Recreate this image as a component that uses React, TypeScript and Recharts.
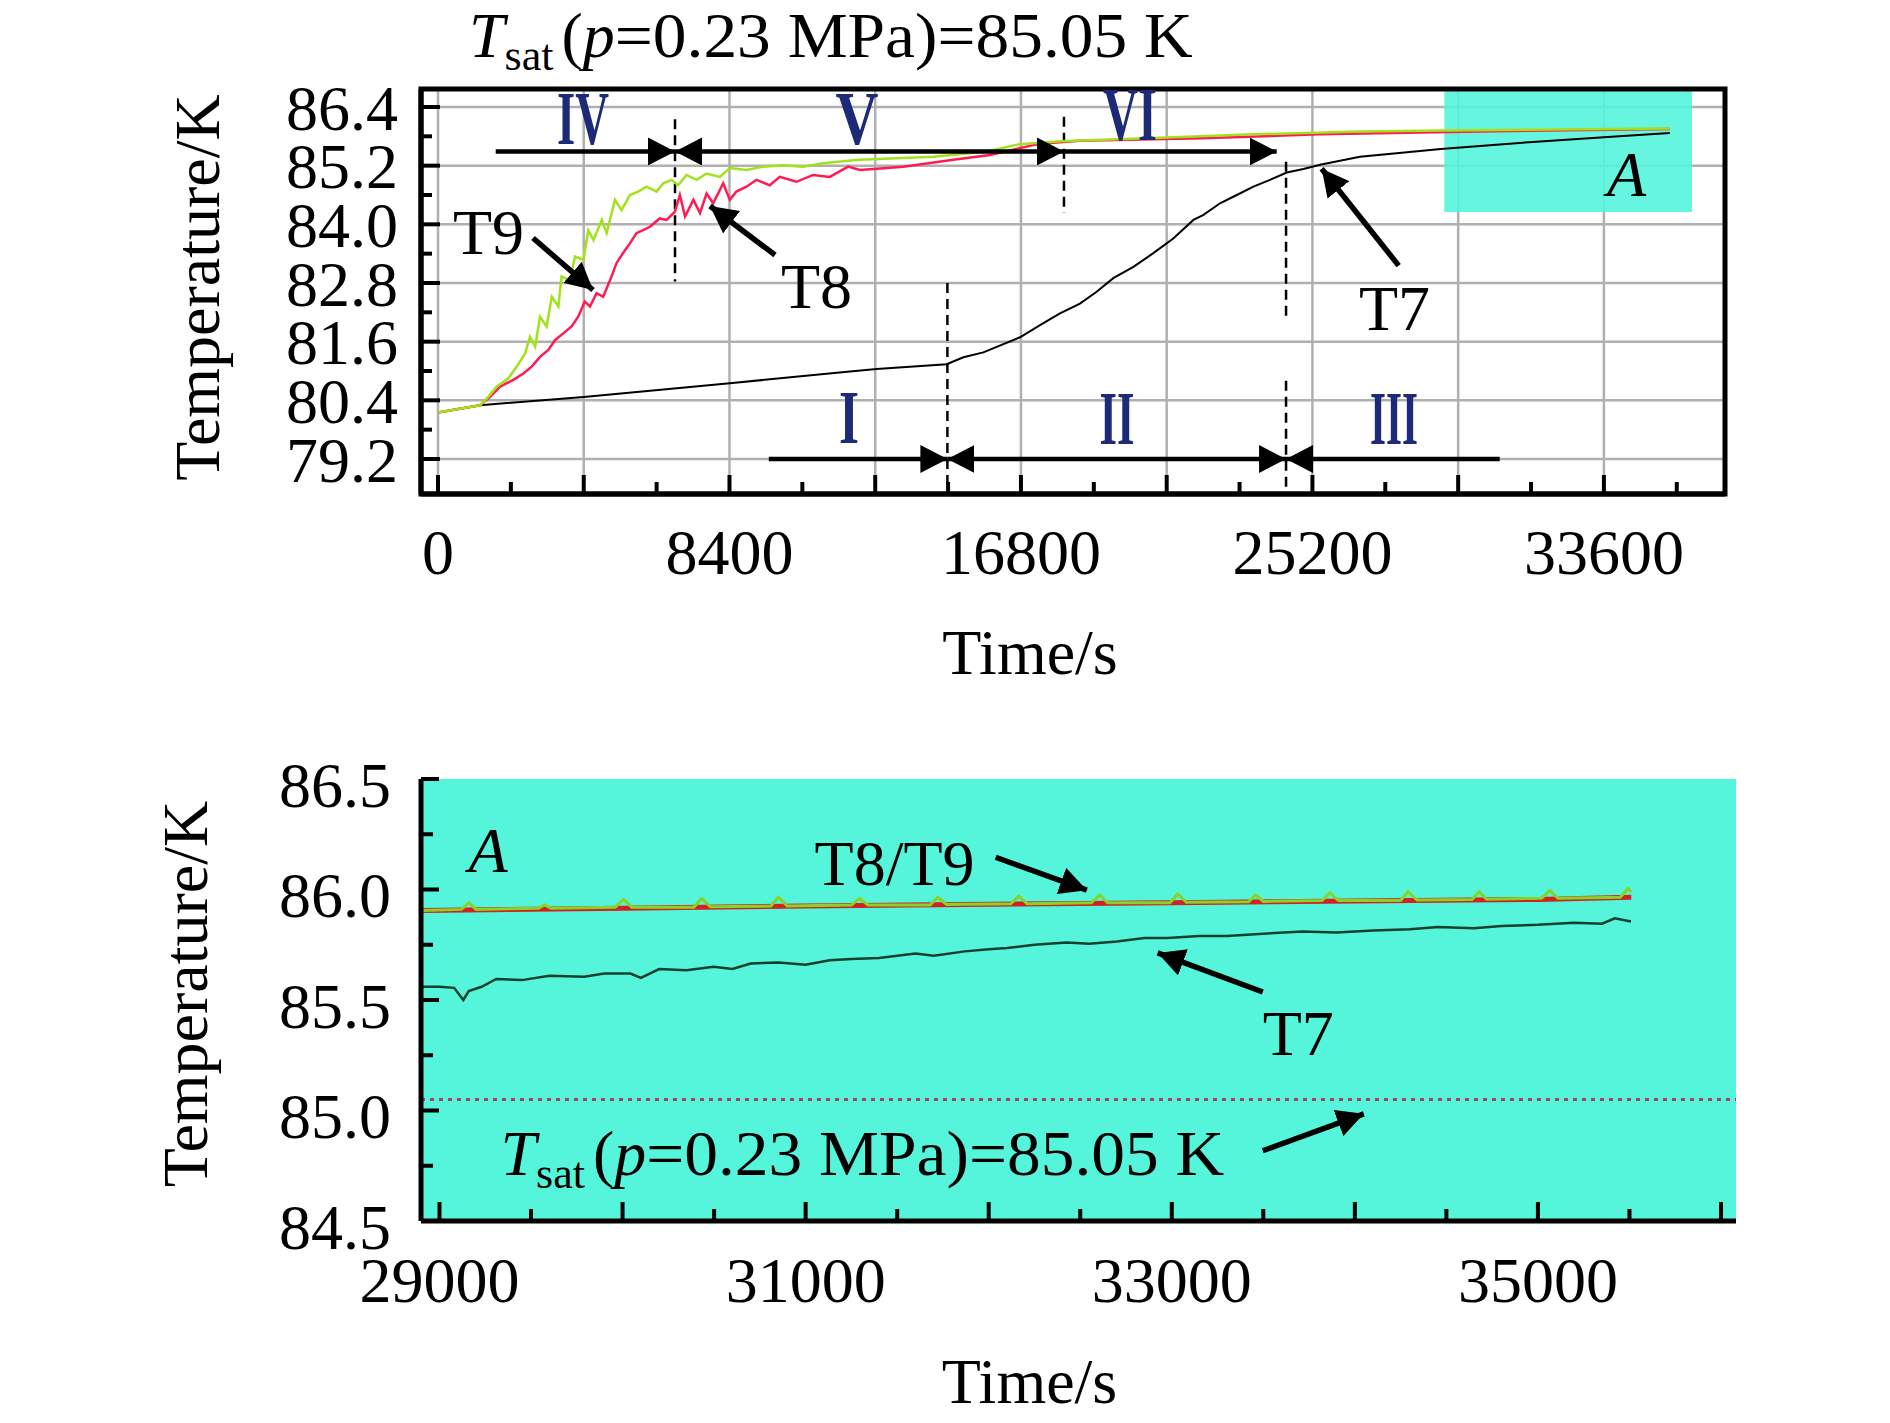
import React from 'react';
import {
  LineChart,
  Line,
  XAxis,
  YAxis,
  CartesianGrid,
  ReferenceLine,
  ReferenceArea,
  ReferenceDot,
} from 'recharts';

const FONT = '"Liberation Serif", "Times New Roman", Times, serif';
const NAVY = '#1c2a78';
const CYAN = '#55F5DC';

// ---------- upper panel: whole run (time in s, temperature in K) ----------
const T7_TIME = [0, 1210, 4200, 8410, 11870, 12640, 14660, 15140, 15716, 16773, 17350, 17925, 18500, 18982, 19460, 20040, 20615, 21190, 21770, 22050, 22537, 23020, 23500, 23977, 24460, 24940, 25418, 26570, 28900, 31440, 33600, 35500];
const T7_TEMP = [80.15, 80.3, 80.47, 80.75, 80.99, 81.04, 81.14, 81.28, 81.38, 81.69, 81.94, 82.18, 82.38, 82.62, 82.9, 83.13, 83.41, 83.71, 84.09, 84.19, 84.43, 84.6, 84.77, 84.91, 85.06, 85.13, 85.22, 85.38, 85.54, 85.68, 85.78, 85.87];

const T8_TIME = [0, 1210, 1500, 1790, 2170, 2460, 2700, 2940, 3180, 3370, 3610, 3850, 4040, 4230, 4380, 4570, 4760, 5000, 5140, 5330, 5530, 5720, 5910, 6110, 6390, 6590, 6830, 6970, 7120, 7360, 7550, 7740, 7930, 8220, 8410, 8600, 8890, 9180, 9560, 9850, 10330, 10810, 11290, 11820, 12160, 13410, 14850, 15908, 17150, 17733, 18500, 22000, 25400, 30000, 35500];
const T8_TEMP = [80.15, 80.3, 80.47, 80.68, 80.82, 80.95, 81.09, 81.29, 81.43, 81.63, 81.77, 81.91, 82.11, 82.42, 82.32, 82.59, 82.52, 82.93, 83.2, 83.41, 83.61, 83.82, 83.88, 83.95, 84.12, 84.09, 84.26, 84.6, 84.16, 84.5, 84.23, 84.63, 84.43, 84.84, 84.5, 84.67, 84.77, 84.91, 84.8, 84.97, 84.87, 85.01, 84.97, 85.18, 85.11, 85.18, 85.32, 85.42, 85.62, 85.67, 85.71, 85.76, 85.84, 85.9, 85.95];

const T9_TIME = [0, 1210, 1450, 1690, 2025, 2270, 2510, 2650, 2800, 2940, 3130, 3280, 3470, 3560, 3800, 3950, 4190, 4330, 4480, 4720, 4860, 5100, 5290, 5530, 5770, 6010, 6300, 6490, 6730, 6920, 7160, 7450, 7740, 8120, 8410, 8890, 9370, 9950, 10520, 11100, 11820, 12160, 14280, 15820, 16773, 17925, 20800, 23500, 26570, 29000, 32000, 35500];
const T9_TEMP = [80.15, 80.3, 80.47, 80.68, 80.85, 81.09, 81.36, 81.7, 81.5, 82.11, 81.91, 82.52, 82.32, 82.93, 82.86, 83.34, 83.27, 83.88, 83.68, 84.09, 83.82, 84.5, 84.29, 84.6, 84.67, 84.77, 84.67, 84.84, 84.91, 84.8, 85.01, 84.91, 85.04, 84.97, 85.15, 85.11, 85.18, 85.21, 85.18, 85.25, 85.3, 85.32, 85.38, 85.49, 85.64, 85.7, 85.77, 85.84, 85.9, 85.92, 85.94, 85.96];

// ---------- lower panel: zoom on region A ----------
const A_T7_TIME = [28900, 29000, 29080, 29130, 29160, 29230, 29310, 29450, 29600, 29790, 29900, 30043, 30100, 30200, 30350, 30497, 30600, 30700, 30852, 31000, 31131, 31250, 31400, 31600, 31700, 31869, 32000, 32100, 32250, 32426, 32550, 32700, 32850, 32978, 33150, 33300, 33500, 33716, 33900, 34100, 34300, 34454, 34650, 34800, 35000, 35197, 35350, 35420, 35508];
const A_T7_TEMP = [85.56, 85.56, 85.555, 85.5, 85.54, 85.56, 85.595, 85.59, 85.61, 85.605, 85.62, 85.62, 85.6, 85.64, 85.635, 85.65, 85.64, 85.665, 85.67, 85.66, 85.68, 85.685, 85.69, 85.71, 85.7, 85.72, 85.73, 85.735, 85.75, 85.76, 85.755, 85.765, 85.78, 85.78, 85.79, 85.79, 85.8, 85.81, 85.805, 85.815, 85.82, 85.83, 85.825, 85.835, 85.84, 85.85, 85.845, 85.87, 85.855];

const A_T8_TIME = [28900, 30000, 31000, 32000, 33000, 34000, 35000, 35510];
const A_T8_TEMP = [85.905, 85.915, 85.925, 85.933, 85.94, 85.948, 85.955, 85.965];

const A_T9_TIME = [28900, 29120, 29160, 29200, 29540, 29574, 29610, 29960, 30005, 30050, 30390, 30432, 30480, 30810, 30852, 30900, 31250, 31295, 31340, 31680, 31721, 31770, 32120, 32164, 32210, 32560, 32607, 32650, 32990, 33033, 33080, 33420, 33459, 33500, 33820, 33863, 33910, 34250, 34290, 34340, 34640, 34678, 34720, 35020, 35066, 35110, 35450, 35492, 35510];
const A_T9_TEMP = [85.905, 85.91, 85.94, 85.91, 85.915, 85.93, 85.915, 85.92, 85.955, 85.92, 85.92, 85.96, 85.922, 85.925, 85.965, 85.925, 85.93, 85.96, 85.93, 85.93, 85.965, 85.932, 85.935, 85.97, 85.936, 85.94, 85.975, 85.94, 85.94, 85.98, 85.942, 85.945, 85.975, 85.946, 85.95, 85.985, 85.95, 85.95, 85.99, 85.952, 85.955, 85.99, 85.956, 85.96, 85.995, 85.96, 85.965, 86.005, 85.99];

const T_SAT = 85.05;

// ---------- axes ----------
const TOP_X_DOMAIN = [-490, 37090];
const TOP_Y_DOMAIN = [78.484, 86.768];
const TOP_X_LABELS = [0, 8400, 16800, 25200, 33600];
const TOP_X_MAJOR = [0, 4200, 8400, 12600, 16800, 21000, 25200, 29400, 33600];
const TOP_X_MINOR = [2100, 6300, 10500, 14700, 18900, 23100, 27300, 31500, 35700];
const TOP_Y_TICKS = [79.2, 80.4, 81.6, 82.8, 84.0, 85.2, 86.4];
const TOP_Y_MINOR = [79.8, 81.0, 82.2, 83.4, 84.6, 85.8];

const BOT_X_DOMAIN = [28899, 36082];
const BOT_Y_DOMAIN = [84.5, 86.5];
const BOT_X_LABELS = [29000, 31000, 33000, 35000];
const BOT_X_MAJOR = [29000, 30000, 31000, 32000, 33000, 34000, 35000, 36000];
const BOT_X_MINOR = [29500, 30500, 31500, 32500, 33500, 34500, 35500];
const BOT_Y_TICKS = [84.5, 85.0, 85.5, 86.0, 86.5];
const BOT_Y_MINOR = [84.75, 85.25, 85.75, 86.25];

// ---------- annotations ----------
// region A on the upper panel [t1, t2, v1, v2]
const REGION_A = [29000, 36140, 84.25, 86.72];
// dashed stage borders [t, vTop, vBottom]
const STAGE_BORDERS = [
  [6830, 86.15, 82.83],
  [18040, 86.2, 84.23],
  [14680, 82.8, 78.5],
  [24440, 85.28, 82.09],
  [24440, 80.8, 78.5],
];
// stage spans: name, from, to, level, heads, label position, label width
const STAGES = [
  { name: 'IV', from: 1663, to: 6830, v: 85.49, start: false, end: true, lt: 4180, lv: 85.64, w: 52 },
  { name: 'V', from: 6830, to: 18040, v: 85.49, start: true, end: true, lt: 12075, lv: 85.64, w: 43 },
  { name: 'VI', from: 18040, to: 24170, v: 85.49, start: false, end: true, lt: 19940, lv: 85.725, w: 54 },
  { name: 'I', from: 9533, to: 14680, v: 79.2, start: false, end: true, lt: 11845, lv: 79.527, w: 20 },
  { name: 'II', from: 14680, to: 24440, v: 79.2, start: true, end: true, lt: 19570, lv: 79.507, w: 35 },
  { name: 'III', from: 24440, to: 30597, v: 79.2, start: true, end: false, lt: 27550, lv: 79.507, w: 48 },
];
const TOP_LABELS = [
  { text: 'T9', t: 432, v: 83.393, italic: false },
  { text: 'T8', t: 9885, v: 82.289, italic: false },
  { text: 'T7', t: 26540, v: 81.839, italic: false },
  { text: 'A', t: 33689, v: 84.57, italic: true },
];
const TOP_POINTERS = [
  [2738, 83.72, 4467, 82.657],
  [9712, 83.373, 7839, 84.375],
  [27686, 83.156, 25467, 85.137],
];
const BOT_LABELS = [
  { text: 'A', t: 29158, v: 86.078, italic: true },
  { text: 'T8/T9', t: 31049, v: 86.02, italic: false },
  { text: 'T7', t: 33497, v: 85.253, italic: false },
];
const BOT_POINTERS = [
  [32038, 86.146, 32536, 85.997],
  [33497, 85.536, 32923, 85.713],
  [33497, 84.818, 34049, 84.985],
];

const zip = (ts: number[], vs: number[]) => ts.map((t, i) => ({ t, v: vs[i] }));
const onlyLabels = (labels: number[]) => (v: number) => (labels.includes(v) ? String(v) : '');

const tickFont = { fontFamily: FONT, fontSize: 64, fill: '#000' };
const tickLine = { stroke: '#000', strokeWidth: 4 };
const noLabel = () => <g />;

const SatText = ({ x, y }: { x: number; y: number }) => (
  <text x={x} y={y} fontFamily={FONT} fontSize={64} fill="#000">
    <tspan fontStyle="italic">T</tspan>
    <tspan fontSize={44} dy={13}>sat</tspan>
    <tspan dy={-13} dx={8}>(</tspan>
    <tspan fontStyle="italic">p</tspan>
    <tspan textLength={578} lengthAdjust="spacingAndGlyphs">=0.23 MPa)=85.05 K</tspan>
  </text>
);

const arrowShape = (width: number, start: boolean, end: boolean) => (p: any) => (
  <line
    x1={p.x1}
    y1={p.y1}
    x2={p.x2}
    y2={p.y2}
    stroke="#000"
    strokeWidth={width}
    markerStart={start ? 'url(#head)' : undefined}
    markerEnd={end ? 'url(#head)' : undefined}
  />
);

const textShape = (text: string, italic: boolean) => (p: any) => (
  <text x={p.cx} y={p.cy} fontFamily={FONT} fontSize={64} fontStyle={italic ? 'italic' : 'normal'} fill="#000">
    {text}
  </text>
);

const numeralShape = (text: string, w: number) => (p: any) => (
  <text
    x={p.cx - w / 2}
    y={p.cy}
    fontFamily={FONT}
    fontSize={77}
    fontWeight="bold"
    fill={NAVY}
    textLength={w}
    lengthAdjust="spacingAndGlyphs"
  >
    {text}
  </text>
);

const yTitle = (baseX: number, shift: number) => (props: any) => {
  const vb = props.viewBox;
  const cy = vb.y + vb.height / 2 + shift;
  return (
    <text
      x={baseX}
      y={cy}
      transform={`rotate(-90 ${baseX} ${cy})`}
      textAnchor="middle"
      fontFamily={FONT}
      fontSize={64}
      fill="#000"
    >
      Temperature/K
    </text>
  );
};

const xTitle = (dx: number, dy: number) => (props: any) => {
  const vb = props.viewBox;
  return (
    <text x={vb.x + vb.width / 2 + dx} y={vb.y + dy} textAnchor="middle" fontFamily={FONT} fontSize={64} fill="#000">
      Time/s
    </text>
  );
};

const TopPanel = () => (
  <LineChart width={1890} height={700} margin={{ top: 89, right: 165, bottom: 6, left: 221 }}>
    <CartesianGrid stroke="#b0b0b0" strokeWidth={2.5} />
    <XAxis
      dataKey="t"
      type="number"
      domain={TOP_X_DOMAIN}
      allowDataOverflow
      ticks={TOP_X_MAJOR}
      interval={0}
      height={200}
      tickLine={tickLine}
      tickSize={-19}
      tickMargin={54}
      tick={tickFont}
      tickFormatter={onlyLabels(TOP_X_LABELS)}
      axisLine={{ stroke: '#000', strokeWidth: 5 }}
      label={{ content: xTitle(-43, 180) }}
    />
    <XAxis xAxisId="min" dataKey="t" type="number" domain={TOP_X_DOMAIN} allowDataOverflow ticks={TOP_X_MINOR} interval={0} mirror tick={noLabel} tickSize={12} tickLine={tickLine} axisLine={false} />
    <YAxis
      type="number"
      domain={TOP_Y_DOMAIN}
      allowDataOverflow
      ticks={TOP_Y_TICKS}
      interval={0}
      width={200}
      tickLine={tickLine}
      tickSize={-19}
      tickMargin={42}
      tick={tickFont}
      tickFormatter={(v: number) => v.toFixed(1)}
      axisLine={{ stroke: '#000', strokeWidth: 5 }}
      label={{ content: yTitle(219, -4) }}
    />
    <YAxis yAxisId="min" type="number" domain={TOP_Y_DOMAIN} allowDataOverflow ticks={TOP_Y_MINOR} interval={0} mirror tick={noLabel} tickSize={11} tickLine={tickLine} axisLine={false} />

    <ReferenceArea x1={REGION_A[0]} x2={REGION_A[1]} y1={REGION_A[2]} y2={REGION_A[3]} fill={CYAN} fillOpacity={0.9} stroke="none" ifOverflow="visible" />

    {STAGE_BORDERS.map(([t, a, b], i) => (
      <ReferenceLine key={`sb${i}`} segment={[{ x: t, y: a }, { x: t, y: b }]} stroke="#000" strokeWidth={2.5} strokeDasharray="10 6" ifOverflow="visible" />
    ))}

    <Line data={zip(T7_TIME, T7_TEMP)} dataKey="v" stroke="#000" strokeWidth={2} dot={false} activeDot={false} isAnimationActive={false} />
    <Line data={zip(T8_TIME, T8_TEMP)} dataKey="v" stroke="#ff1a52" strokeWidth={2.5} dot={false} activeDot={false} isAnimationActive={false} />
    <Line data={zip(T9_TIME, T9_TEMP)} dataKey="v" stroke="#a2e21a" strokeWidth={2.5} dot={false} activeDot={false} isAnimationActive={false} />

    {STAGES.map((s) => (
      <ReferenceLine key={`sa${s.name}`} segment={[{ x: s.from, y: s.v }, { x: s.to, y: s.v }]} ifOverflow="visible" shape={arrowShape(4.5, s.start, s.end)} />
    ))}
    {STAGES.map((s) => (
      <ReferenceDot key={`sn${s.name}`} x={s.lt} y={s.lv} r={0} ifOverflow="visible" shape={numeralShape(s.name, s.w)} />
    ))}
    {TOP_POINTERS.map(([t1, v1, t2, v2], i) => (
      <ReferenceLine key={`tp${i}`} segment={[{ x: t1, y: v1 }, { x: t2, y: v2 }]} ifOverflow="visible" shape={arrowShape(5.5, false, true)} />
    ))}
    {TOP_LABELS.map((l) => (
      <ReferenceDot key={`tl${l.text}`} x={l.t} y={l.v} r={0} ifOverflow="visible" shape={textShape(l.text, l.italic)} />
    ))}
    <ReferenceDot x={893} y={87.42} r={0} ifOverflow="visible" shape={(p: any) => <SatText x={p.cx} y={p.cy} />} />

    <ReferenceArea x1={TOP_X_DOMAIN[0]} x2={TOP_X_DOMAIN[1]} y1={TOP_Y_DOMAIN[0]} y2={TOP_Y_DOMAIN[1]} fill="none" stroke="#000" strokeWidth={5} ifOverflow="visible" />
  </LineChart>
);

const BottomPanel = () => (
  <LineChart width={1890} height={723} margin={{ top: 79, right: 154, bottom: 12, left: 221 }}>
    <CartesianGrid horizontal={false} vertical={false} fill={CYAN} fillOpacity={1} />
    <XAxis
      dataKey="t"
      type="number"
      domain={BOT_X_DOMAIN}
      allowDataOverflow
      ticks={BOT_X_MAJOR}
      interval={0}
      height={190}
      tickLine={tickLine}
      tickSize={-19}
      tickMargin={55}
      tick={tickFont}
      tickFormatter={onlyLabels(BOT_X_LABELS)}
      axisLine={{ stroke: '#000', strokeWidth: 5 }}
      label={{ content: xTitle(-49, 182) }}
    />
    <XAxis xAxisId="min" dataKey="t" type="number" domain={BOT_X_DOMAIN} allowDataOverflow ticks={BOT_X_MINOR} interval={0} mirror tick={noLabel} tickSize={12} tickLine={tickLine} axisLine={false} />
    <YAxis
      type="number"
      domain={BOT_Y_DOMAIN}
      allowDataOverflow
      ticks={BOT_Y_TICKS}
      interval={0}
      width={200}
      tickLine={tickLine}
      tickSize={-18}
      tickMargin={48}
      tick={{ ...tickFont, dy: 5 }}
      tickFormatter={(v: number) => v.toFixed(1)}
      axisLine={{ stroke: '#000', strokeWidth: 5 }}
      label={{ content: yTitle(207, -6) }}
    />
    <YAxis yAxisId="min" type="number" domain={BOT_Y_DOMAIN} allowDataOverflow ticks={BOT_Y_MINOR} interval={0} mirror tick={noLabel} tickSize={12} tickLine={tickLine} axisLine={false} />

    <ReferenceLine y={T_SAT} stroke="#b23a5c" strokeWidth={3} strokeDasharray="4 5" />

    <Line data={zip(A_T7_TIME, A_T7_TEMP)} dataKey="v" stroke="#17402c" strokeWidth={2.5} dot={false} activeDot={false} isAnimationActive={false} />
    <Line data={zip(A_T8_TIME, A_T8_TEMP)} dataKey="v" stroke="#d42020" strokeWidth={5} dot={false} activeDot={false} isAnimationActive={false} />
    <Line data={zip(A_T9_TIME, A_T9_TEMP)} dataKey="v" stroke="#86d42a" strokeWidth={3} dot={false} activeDot={false} isAnimationActive={false} />

    {BOT_POINTERS.map(([t1, v1, t2, v2], i) => (
      <ReferenceLine key={`bp${i}`} segment={[{ x: t1, y: v1 }, { x: t2, y: v2 }]} ifOverflow="visible" shape={arrowShape(5.5, false, true)} />
    ))}
    {BOT_LABELS.map((l) => (
      <ReferenceDot key={`bl${l.text}`} x={l.t} y={l.v} r={0} ifOverflow="visible" shape={textShape(l.text, l.italic)} />
    ))}
    <ReferenceDot x={29333} y={84.709} r={0} ifOverflow="visible" shape={(p: any) => <SatText x={p.cx} y={p.cy} />} />
  </LineChart>
);

export default function App() {
  return (
    <div style={{ position: 'absolute', left: 0, top: 0, width: 1890, height: 1423, background: '#fff', overflow: 'hidden' }}>
      <svg width={0} height={0} style={{ position: 'absolute' }}>
        <defs>
          <marker
            id="head"
            viewBox="0 0 27 28"
            refX={27}
            refY={14}
            markerWidth={27}
            markerHeight={28}
            markerUnits="userSpaceOnUse"
            orient="auto-start-reverse"
          >
            <path d="M0,0 L27,14 L0,28 Z" fill="#000" />
          </marker>
        </defs>
      </svg>
      <div style={{ position: 'absolute', left: 0, top: 0 }}>
        <TopPanel />
      </div>
      <div style={{ position: 'absolute', left: 0, top: 700 }}>
        <BottomPanel />
      </div>
    </div>
  );
}
